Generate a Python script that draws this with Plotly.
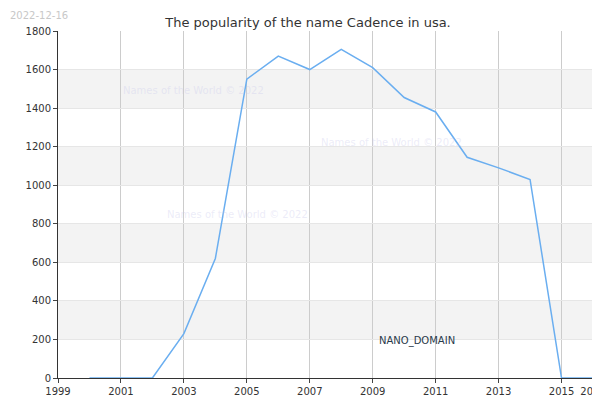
import plotly.graph_objects as go

years = list(range(2000, 2017))
counts = [0, 0, 0, 230, 620, 1550, 1670, 1600, 1705, 1610, 1455, 1380, 1145, 1090, 1030, 0, 0]
x_ticks = list(range(1999, 2017, 2)) + [2016]
y_ticks = list(range(0, 1801, 200))

fig = go.Figure()

# alternating grey bands
shapes = []
for lo in [200, 600, 1000, 1400]:
    shapes.append(dict(type="rect", xref="paper", yref="y", x0=0, x1=1, y0=lo, y1=lo + 200,
                       fillcolor="#f3f3f3", line_width=0, layer="below"))

fig.add_trace(go.Scatter(x=years, y=counts, mode="lines",
                         line=dict(color="#6aaef0", width=1.5), hoverinfo="x+y"))

wm = dict(showarrow=False, font=dict(size=10, color="rgba(200,200,235,0.35)"))
annotations = [
    dict(text="Names of the World © 2022", x=2003.3, y=1490, **wm),
    dict(text="Names of the World © 2022", x=2009.6, y=1220, **wm),
    dict(text="Names of the World © 2022", x=2004.7, y=850, **wm),
    dict(text="NANO_DOMAIN", x=2010.4, y=190, showarrow=False,
         font=dict(size=10, color="#2a3a4a")),
    dict(text="2022-12-16", xref="paper", yref="paper", x=-0.093, y=1.066,
         xanchor="left", yanchor="top",
         showarrow=False, font=dict(size=10, color="#c8c8c8")),
]

fig.update_layout(
    width=600, height=400,
    title=dict(text="The popularity of the name Cadence in usa.", x=0.5, y=0.975,
               font=dict(size=13, color="#333")),
    font=dict(family="DejaVu Sans", size=10, color="#333"),
    plot_bgcolor="white", paper_bgcolor="white",
    margin=dict(l=50, r=15, t=23, b=30),
    showlegend=False, shapes=shapes, annotations=annotations,
)
fig.update_xaxes(range=[1999, 2016], tickvals=x_ticks, showgrid=True, gridcolor="#cccccc",
                 showline=True, linecolor="#333", ticks="outside", ticklen=4, zeroline=False,
                 automargin=False)
fig.update_yaxes(range=[0, 1800], tickvals=y_ticks, showgrid=True, gridcolor="#e6e6e6",
                 showline=True, linecolor="#333", ticks="outside", ticklen=4, zeroline=False,
                 automargin=False)

fig.write_html("out.html")
